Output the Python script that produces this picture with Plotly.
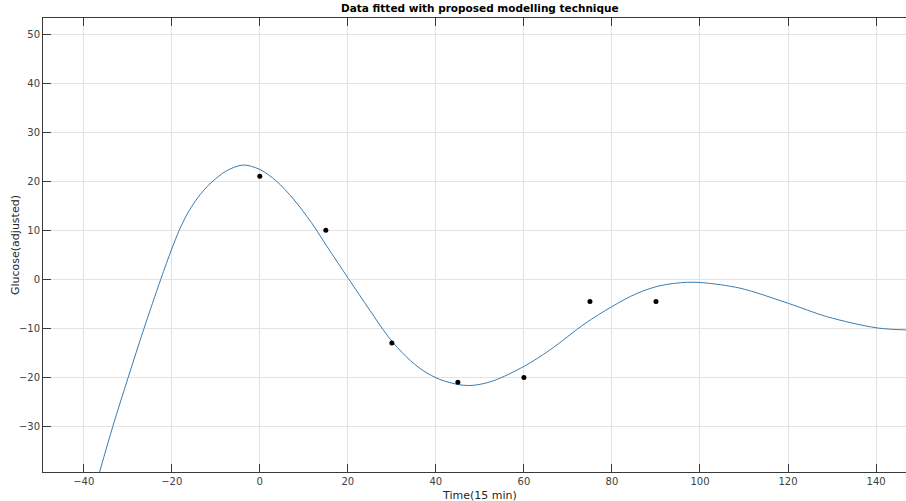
import plotly.graph_objects as go

# Measured data points
data_x = [0, 15, 30, 45, 60, 75, 90]
data_y = [21.0, 10.0, -13.0, -21.0, -20.0, -4.5, -4.5]

# Fitted curve
curve_x = [-36.4, -33.4, -29.9, -26.3, -22.5, -20.0, -18.3, -16.5, -14.6, -12.5, -10.8,
           -7.6, -3.8, 0.0, 3.8, 7.6, 11.7, 15.2, 20.1, 25.0, 29.2, 33.3, 37.1, 40.9,
           45.5, 48.5, 53.0, 60.1, 65.9, 73.9, 79.9, 85.6, 90.9, 97.0, 100.8, 109.1,
           120.1, 128.8, 140.2, 146.8]
curve_y = [-39.3, -30.0, -20.0, -10.0, 0.0, 6.2, 10.0, 13.3, 16.0, 18.4, 19.9,
           22.1, 23.3, 22.4, 20.0, 16.4, 11.6, 6.8, 0.2, -6.3, -11.7, -15.8, -18.6, -20.4,
           -21.5, -21.6, -20.7, -17.7, -14.4, -9.0, -5.6, -2.9, -1.3, -0.6, -0.7, -1.8,
           -4.9, -7.6, -9.9, -10.3]

x_ticks = [-40, -20, 0, 20, 40, 60, 80, 100, 120, 140]
y_ticks = [-30, -20, -10, 0, 10, 20, 30, 40, 50]

fig = go.Figure()
fig.add_trace(go.Scatter(x=curve_x, y=curve_y, mode="lines", line_shape="spline",
                         line=dict(color="#3a7bb0", width=1, smoothing=0.9), hoverinfo="skip"))
fig.add_trace(go.Scatter(x=data_x, y=data_y, mode="markers",
                         marker=dict(color="black", size=5)))

axis_common = dict(
    showgrid=True, gridcolor="#e3e3e3", gridwidth=1,
    showline=True, linecolor="#3a3a3a", linewidth=1,
    ticks="inside", ticklen=8, tickcolor="#3a3a3a", tickwidth=1,
    zeroline=False,
    tickfont=dict(family="DejaVu Sans", size=10, color="#404040"),
)

plot_w = 906 - 43
fig.update_layout(
    width=906, height=501,
    margin=dict(l=43, r=0, t=18, b=29),
    paper_bgcolor="white", plot_bgcolor="white",
    showlegend=False,
    xaxis=dict(range=[-49.25, 146.8], tickvals=x_ticks, mirror="ticks", **axis_common),
    yaxis=dict(range=[-39.27, 53.27], tickvals=y_ticks, **axis_common),
    annotations=[
        dict(text="<b>Data fitted with proposed modelling technique</b>",
             xref="paper", yref="paper", x=(480 - 43) / plot_w, y=1,
             xanchor="center", yanchor="bottom", yshift=2, showarrow=False,
             font=dict(family="DejaVu Sans", size=10.5, color="black")),
        dict(text="Time(15 min)",
             xref="paper", yref="paper", x=(480 - 43) / plot_w, y=0,
             xanchor="center", yanchor="top", yshift=-15, showarrow=False,
             font=dict(family="DejaVu Sans", size=11, color="#262626")),
        dict(text="Glucose(adjusted)", textangle=-90,
             xref="paper", yref="paper", x=(15 - 43) / plot_w, y=0.5,
             xanchor="center", yanchor="middle", showarrow=False,
             font=dict(family="DejaVu Sans", size=11, color="#262626")),
    ],
)

fig.write_html("out.html")
